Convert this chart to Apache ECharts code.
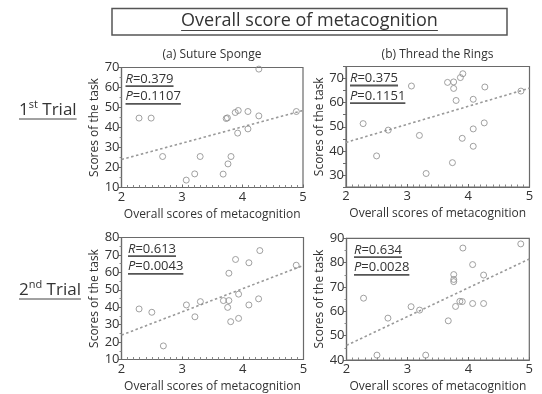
<!DOCTYPE html>
<html><head><meta charset="utf-8">
<script src="https://cdn.jsdelivr.net/npm/echarts@6/dist/echarts.min.js"></script>
<style>html,body{margin:0;padding:0;background:#fff}#c{width:542px;height:394px}</style>
</head><body><div id="c"></div>
<script>
// ---- data ----
const xTicks = ['2', '3', '4', '5'];
// (a) Suture Sponge, 1st trial
const sutureT1X = [2.29, 2.49, 2.68, 3.07, 3.21, 3.30, 3.68, 3.76, 3.81, 3.73, 3.75, 3.88, 3.93, 3.92, 4.09, 4.09, 4.27, 4.27, 4.89];
const sutureT1Y = [44.7, 44.7, 25.5, 13.7, 16.8, 25.5, 16.7, 21.8, 25.5, 44.5, 44.8, 47.5, 48.5, 37.2, 48.0, 39.3, 69.2, 45.8, 48.0];
const sutureT1Fit = [[2, 24], [5, 48.5]];
// (b) Thread the Rings, 1st trial
const ringsT1X = [2.28, 2.50, 2.69, 3.07, 3.20, 3.31, 3.66, 3.76, 3.76, 3.80, 3.74, 3.87, 3.91, 3.90, 4.08, 4.08, 4.08, 4.27, 4.26, 4.86];
const ringsT1Y = [51.3, 37.9, 48.6, 66.9, 46.4, 30.6, 68.4, 68.6, 65.9, 60.9, 35.1, 70.4, 72.0, 45.2, 61.4, 49.1, 41.9, 66.5, 51.6, 64.8];
const ringsT1Fit = [[2, 43.5], [5, 66]];
// (a) Suture Sponge, 2nd trial
const sutureT2X = [2.29, 2.50, 2.69, 3.07, 3.21, 3.30, 3.68, 3.77, 3.75, 3.77, 3.88, 3.93, 3.80, 3.93, 4.10, 4.10, 4.28, 4.26, 4.88];
const sutureT2Y = [39.0, 37.1, 17.8, 41.3, 34.5, 43.2, 43.8, 43.8, 39.9, 59.5, 67.4, 47.5, 31.7, 33.6, 65.5, 41.3, 72.5, 44.8, 64.1];
const sutureT2Fit = [[2, 24], [5, 64]];
// (b) Thread the Rings, 2nd trial
const ringsT2X = [2.28, 2.50, 2.68, 3.06, 3.20, 3.30, 3.67, 3.79, 3.86, 3.90, 3.76, 3.76, 3.76, 3.91, 4.07, 4.07, 4.25, 4.25, 4.86];
const ringsT2Y = [65.4, 42.0, 57.2, 61.9, 60.5, 42.0, 56.1, 62.0, 64.1, 64.0, 75.1, 73.1, 72.2, 86.0, 79.2, 63.2, 74.9, 63.2, 87.7];
const ringsT2Fit = [[2, 46], [5, 81.5]];
const stats = [['0.379', '0.1107'], ['0.375', '0.1151'], ['0.613', '0.0043'], ['0.634', '0.0028']];
const yRanges = [[10, 70, 10], [25, 75, 5], [10, 80, 10], [40, 90, 10]];
const titleText = 'Overall score of metacognition';
const panelTitles = ['(a) Suture Sponge', '(b) Thread the Rings'];
const xName = 'Overall scores of metacognition';
const yName = 'Scores of the task';

// ---- layout ----
const FONT = '"Open Sans", "Noto Sans", sans-serif';
const TXT = '#333';
const LINE = '#6a6a6a';
const grids = [
  {left: 121.5, top: 67.5, width: 181.5, height: 120},
  {left: 346, top: 66.5, width: 183.5, height: 120.5},
  {left: 121.5, top: 237.5, width: 182, height: 122},
  {left: 346.5, top: 238.3, width: 182.8, height: 123.4}
];
const panels = [
  [sutureT1X, sutureT1Y, sutureT1Fit],
  [ringsT1X, ringsT1Y, ringsT1Fit],
  [sutureT2X, sutureT2Y, sutureT2Fit],
  [ringsT2X, ringsT2Y, ringsT2Fit]
];

const chart = echarts.init(document.getElementById('c'), null, {renderer: 'canvas'});

const xAxes = [], yAxes = [], series = [];
grids.forEach((g, i) => {
  xAxes.push({
    gridIndex: i, type: 'value', min: 2, max: 5, interval: 1,
    name: xName, nameLocation: 'middle', nameGap: 21,
    nameTextStyle: {fontFamily: FONT, fontSize: 12, color: TXT},
    axisLine: {show: true, onZero: false, lineStyle: {color: LINE, width: 1.2}},
    axisTick: {show: true, inside: true, length: 3, lineStyle: {color: LINE}},
    minorTick: {show: true, splitNumber: 10, length: 2.5, lineStyle: {color: '#888'}},
    axisLabel: {fontFamily: FONT, fontSize: 13, color: TXT, margin: 3,
      formatter: v => xTicks[Math.round(v) - 2]},
    splitLine: {show: false}
  });
  const r = yRanges[i];
  yAxes.push({
    gridIndex: i, type: 'value', min: r[0], max: r[1], interval: r[2],
    name: yName, nameLocation: 'middle', nameGap: 19,
    nameTextStyle: {fontFamily: FONT, fontSize: 12, color: TXT},
    axisLine: {show: true, onZero: false, lineStyle: {color: LINE, width: 1.2}},
    axisTick: {show: true, length: 3, lineStyle: {color: LINE}},
    minorTick: {show: r[2] === 10, splitNumber: 2, length: 2, lineStyle: {color: '#888'}},
    axisLabel: {fontFamily: FONT, fontSize: 13, color: TXT, margin: 2,
      formatter: v => (v % 10 === 0 ? String(v) : '')},
    splitLine: {show: false}
  });
  const [xs, ys, fit] = panels[i];
  series.push({
    type: 'scatter', xAxisIndex: i, yAxisIndex: i,
    data: xs.map((x, k) => [x, ys[k]]),
    symbol: 'circle', symbolSize: 6,
    itemStyle: {color: 'rgba(255,255,255,0)', borderColor: '#8a8a8a', borderWidth: 1},
    silent: true, z: 3
  });
  series.push({
    type: 'line', xAxisIndex: i, yAxisIndex: i, data: fit,
    showSymbol: false, symbol: 'none',
    lineStyle: {color: '#999', width: 1.6, type: [2.5, 2.5]},
    silent: true, z: 2
  });
});

// helpers for underlined decorations
const mctx = document.createElement('canvas').getContext('2d');
function textW(str, size, style) {
  mctx.font = (style || '') + ' ' + size + 'px ' + FONT;
  return mctx.measureText(str).width;
}
const graphic = [];
// title box
graphic.push({type: 'rect', shape: {x: 112, y: 8.5, width: 395, height: 26.5},
  style: {fill: 'none', stroke: '#555', lineWidth: 1.5}, silent: true});
graphic.push({type: 'text', x: 309.5, y: 21, style: {text: titleText, fontFamily: FONT, fontSize: 18,
  fill: TXT, align: 'center', verticalAlign: 'middle'}, silent: true});
const tw = textW(titleText, 18);
graphic.push({type: 'line', shape: {x1: 309.5 - tw / 2, y1: 30.5, x2: 309.5 + tw / 2, y2: 30.5},
  style: {stroke: '#444', lineWidth: 1}, silent: true});
// panel titles
[[212, 55], [437.5, 55]].forEach((p, i) => {
  graphic.push({type: 'text', x: p[0], y: p[1], style: {text: panelTitles[i], fontFamily: FONT,
    fontSize: 12, fill: TXT, align: 'center', verticalAlign: 'middle'}, silent: true});
});
// row labels
[['1', 'st', 110], ['2', 'nd', 290]].forEach(r => {
  graphic.push({type: 'text', x: 19, y: r[2], style: {
    text: '{a|' + r[0] + '}{s|' + r[1] + '}{a| Trial}', fontFamily: FONT, fill: TXT,
    align: 'left', verticalAlign: 'middle',
    rich: {a: {fontSize: 17, lineHeight: 22, fontFamily: FONT, fill: TXT},
           s: {fontSize: 11, lineHeight: 22, fontFamily: FONT, fill: TXT, verticalAlign: 'top', padding: [0, 0, 10, 0]}}
  }, silent: true});
  const w = textW(r[0] + ' Trial', 17) + textW(r[1], 11);
  graphic.push({type: 'line', shape: {x1: 19, y1: r[2] + 9, x2: 19 + w, y2: r[2] + 9},
    style: {stroke: '#444', lineWidth: 1}, silent: true});
});
// R / P annotations
const annPos = [[125.5, 79], [350, 78.3], [128, 249], [354, 250]];
annPos.forEach((p, i) => {
  [['R', stats[i][0], 0], ['P', stats[i][1], 17.7]].forEach(a => {
    const y = p[1] + a[2];
    graphic.push({type: 'text', x: p[0], y: y, style: {
      text: '{i|' + a[0] + '}{n|=' + a[1] + '}', align: 'left', verticalAlign: 'middle',
      rich: {i: {fontSize: 13, fontStyle: 'italic', fontFamily: FONT, fill: TXT},
             n: {fontSize: 13, fontFamily: FONT, fill: TXT}}
    }, silent: true, z: 10});
    const w = textW(a[0], 13, 'italic') + textW('=' + a[1], 13);
    graphic.push({type: 'line', shape: {x1: p[0], y1: y + 7.2, x2: p[0] + w, y2: y + 7.2},
      style: {stroke: '#555', lineWidth: 1.8}, silent: true, z: 10});
  });
});

chart.setOption({
  backgroundColor: '#fff',
  animation: false,
  textStyle: {fontFamily: FONT},
  grid: grids.map(g => Object.assign({show: true, borderColor: LINE, borderWidth: 1.2, backgroundColor: 'transparent'}, g)),
  xAxis: xAxes,
  yAxis: yAxes,
  series: series,
  graphic: graphic
});
</script></body></html>
